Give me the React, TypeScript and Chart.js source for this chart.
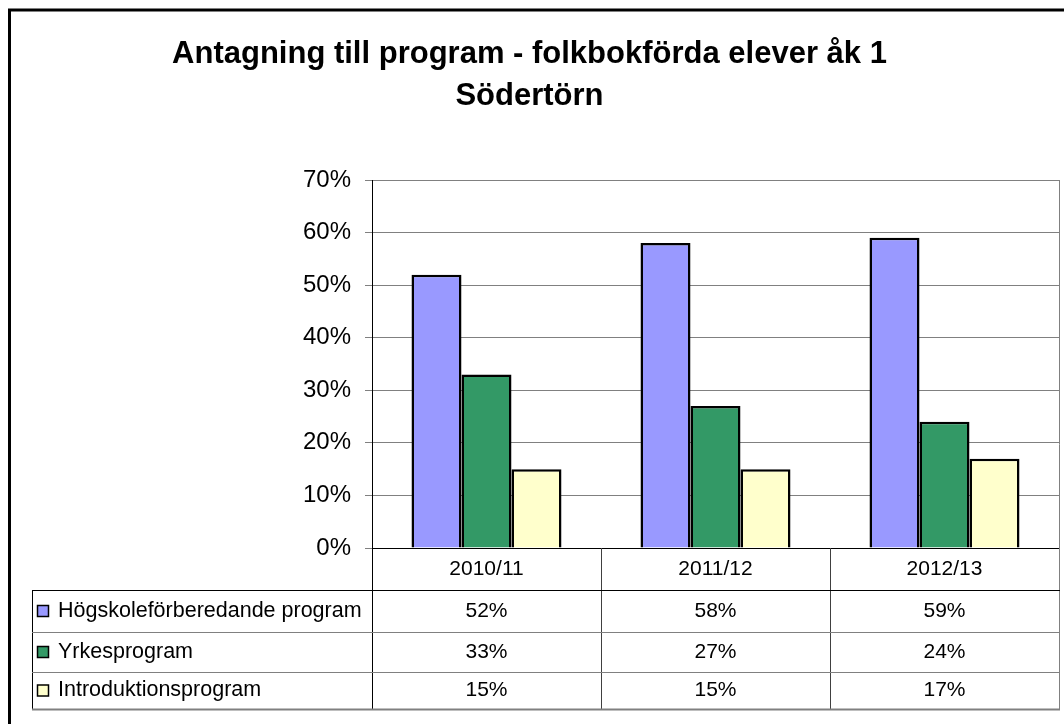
import React, { useEffect, useRef } from "react";
import { Chart, registerables } from "chart.js";

Chart.register(...registerables);

const titleLines = ["Antagning till program - folkbokförda elever åk 1", "Södertörn"];
const categories = ["2010/11", "2011/12", "2012/13"];
const seriesNames = ["Högskoleförberedande program", "Yrkesprogram", "Introduktionsprogram"];
const hogskoleValues = [52, 58, 59];
const yrkesValues = [33, 27, 24];
const introValues = [15, 15, 17];
const seriesColors = ["#9999FF", "#339966", "#FFFFCC"];
const yMax = 70;
const yStep = 10;

const FONT = "'Liberation Sans', Arial, sans-serif";

const framePlugin = {
  id: "frame",
  beforeDraw(chart: any) {
    const ctx = chart.ctx;
    ctx.save();
    ctx.fillStyle = "#fff";
    ctx.fillRect(0, 0, chart.width, chart.height);
    ctx.strokeStyle = "#000";
    ctx.lineWidth = 3;
    ctx.strokeRect(9.5, 10, chart.width + 20, chart.height + 20);
    ctx.restore();
  },
};

const tablePlugin = {
  id: "dataTable",
  afterDraw(chart: any) {
    const ctx = chart.ctx;
    const xs = chart.scales.x;
    const area = chart.chartArea;
    const n = categories.length;
    const catW = (xs.right - xs.left) / n;
    const axisY = area.bottom;
    const headerBottom = axisY + 42;
    const rowH = [42, 40, 37];
    const tableBottom = headerBottom + rowH[0] + rowH[1] + rowH[2];
    const tableLeft = 32;

    ctx.save();
    ctx.strokeStyle = "#808080";
    ctx.lineWidth = 1;
    ctx.beginPath();
    ctx.moveTo(Math.round(area.right) + 0.5, area.top);
    ctx.lineTo(Math.round(area.right) + 0.5, tableBottom);
    ctx.stroke();

    ctx.strokeStyle = "#404040";
    for (let i = 1; i < n; i++) {
      const x = Math.round(xs.left + i * catW) + 0.5;
      ctx.beginPath();
      ctx.moveTo(x, axisY);
      ctx.lineTo(x, tableBottom);
      ctx.stroke();
    }
    ctx.strokeStyle = "#000";
    ctx.beginPath();
    ctx.moveTo(Math.round(xs.left) + 0.5, axisY);
    ctx.lineTo(Math.round(xs.left) + 0.5, tableBottom);
    ctx.stroke();
    ctx.beginPath();
    ctx.moveTo(tableLeft + 0.5, headerBottom);
    ctx.lineTo(tableLeft + 0.5, tableBottom);
    ctx.stroke();

    ctx.strokeStyle = "#000";
    ctx.beginPath();
    ctx.moveTo(tableLeft, headerBottom + 0.5);
    ctx.lineTo(area.right + 1, headerBottom + 0.5);
    ctx.stroke();
    ctx.strokeStyle = "#808080";
    let y = headerBottom;
    for (let r = 0; r < 3; r++) {
      y += rowH[r];
      ctx.lineWidth = r === 2 ? 2 : 1;
      ctx.beginPath();
      ctx.moveTo(tableLeft, y + 0.5);
      ctx.lineTo(area.right + 1, y + 0.5);
      ctx.stroke();
    }

    ctx.fillStyle = "#000";
    ctx.font = `21px ${FONT}`;
    ctx.textAlign = "center";
    ctx.textBaseline = "middle";
    categories.forEach((c, i) => {
      ctx.fillText(c, xs.getPixelForValue(i), (axisY + headerBottom) / 2);
    });

    let top = headerBottom;
    chart.data.datasets.forEach((ds: any, r: number) => {
      const cy = top + rowH[r] / 2;
      ctx.fillStyle = ds.backgroundColor;
      ctx.fillRect(37, cy - 6, 12, 12);
      ctx.strokeStyle = "#000";
      ctx.lineWidth = 1.5;
      ctx.strokeRect(37.5, cy - 5.5, 11, 11);
      ctx.fillStyle = "#000";
      ctx.font = `21.5px ${FONT}`;
      ctx.textAlign = "left";
      ctx.fillText(ds.label, 58, cy);
      ctx.font = `21px ${FONT}`;
      ctx.textAlign = "center";
      ds.data.forEach((v: number, i: number) => {
        ctx.fillText(`${v}%`, xs.getPixelForValue(i), cy);
      });
      top += rowH[r];
    });
    ctx.restore();
  },
};

export default function App() {
  const ref = useRef<HTMLCanvasElement | null>(null);

  useEffect(() => {
    if (!ref.current) return;
    const data = [hogskoleValues, yrkesValues, introValues];
    const chart = new Chart(ref.current, {
      type: "bar",
      data: {
        labels: categories,
        datasets: seriesNames.map((name, i) => ({
          label: name,
          data: data[i],
          backgroundColor: seriesColors[i],
          borderColor: "#000",
          borderWidth: 2.5,
          categoryPercentage: 0.655,
          barPercentage: 1,
        })),
      },
      options: {
        responsive: false,
        animation: false,
        devicePixelRatio: 1,
        layout: { padding: { left: 0, right: 5, top: 0, bottom: 15 } },
        plugins: {
          legend: { display: false },
          tooltip: { enabled: false },
          title: {
            display: true,
            text: titleLines,
            color: "#000",
            font: { family: FONT, size: 31, weight: "bold", lineHeight: 42 / 31 },
            padding: { top: 33, bottom: 63 },
          },
        },
        scales: {
          x: {
            grid: { display: false, drawTicks: false },
            border: { display: true, color: "#000", width: 1 },
            ticks: { display: false },
            afterFit(scale: any) {
              scale.height = 161;
            },
          },
          y: {
            min: 0,
            max: yMax,
            grid: { color: "#808080", lineWidth: 1, tickLength: 7, drawTicks: true },
            border: { display: true, color: "#000", width: 1 },
            ticks: {
              stepSize: yStep,
              padding: 14,
              color: "#000",
              font: { family: FONT, size: 24 },
              callback: (v: any) => `${v}%`,
            },
            afterFit(scale: any) {
              scale.width = 372;
            },
          },
        },
      },
      plugins: [framePlugin, tablePlugin],
    });
    return () => chart.destroy();
  }, []);

  return (
    <div style={{ position: "fixed", left: 0, top: 0, width: 1064, height: 724, background: "#fff" }}>
      <canvas ref={ref} width={1064} height={724} style={{ width: 1064, height: 724, display: "block" }} />
    </div>
  );
}
